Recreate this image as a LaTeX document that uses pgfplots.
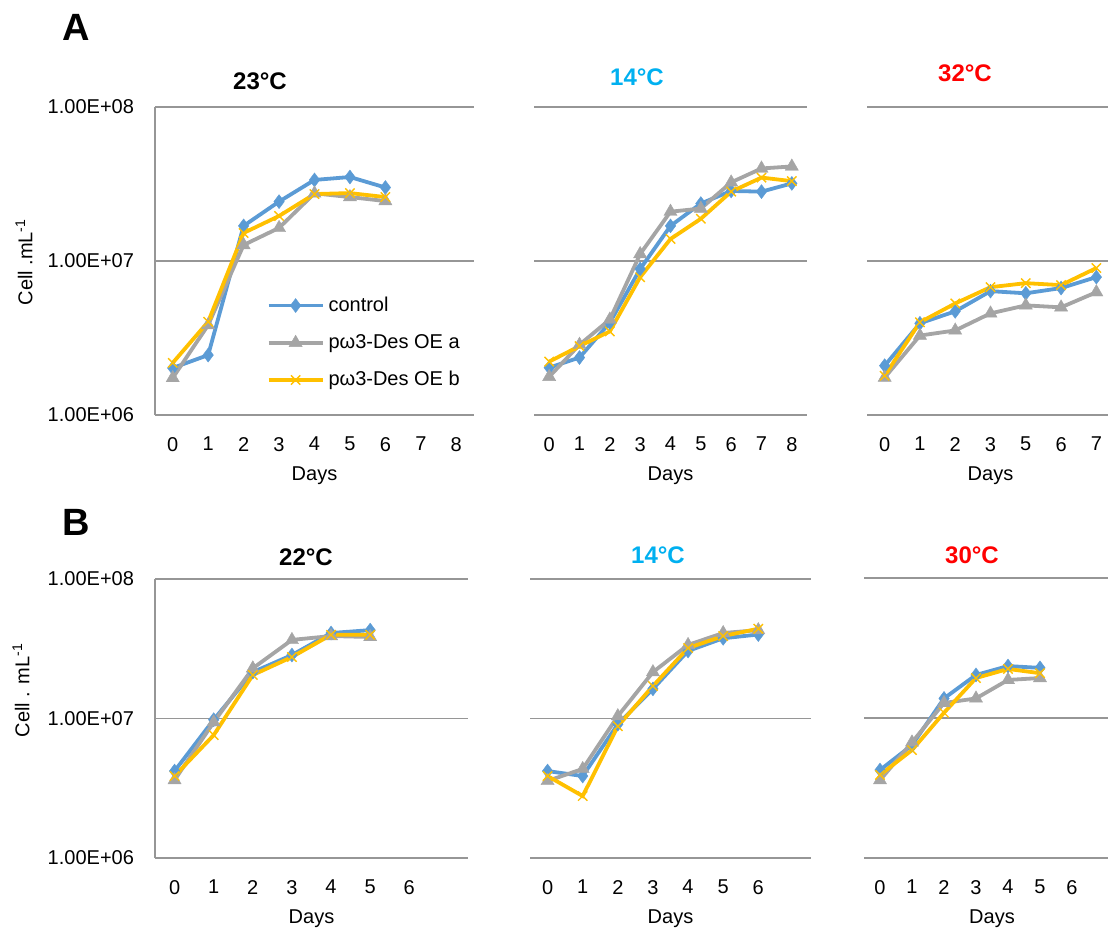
\documentclass[border=0pt]{standalone}
\usepackage{pgfplots}
\pgfplotsset{compat=1.18}
\usepackage{fontspec}
\setmainfont{Liberation Sans}
\definecolor{cblue}{RGB}{91,155,213}
\definecolor{cgray}{RGB}{165,165,165}
\definecolor{cgold}{RGB}{255,192,0}
\definecolor{gridc}{RGB}{150,150,150}
\definecolor{tcyan}{RGB}{0,176,240}
\definecolor{tred}{RGB}{255,0,0}

\pgfplotsset{
  scale only axis,
  ytick={1e6,1e7,1e8},
  ymajorgrids, grid style={gridc, line width=0.8pt},
  axis line style={draw=none}, tick style={draw=none}, major tick length=0pt,
  xlabel={Days},
  xlabel style={at={(axis description cs:0.5,0)}, anchor=center, yshift=-30.5pt},
  xticklabel style={yshift=-7.5pt},
  yticklabel style={xshift=-7pt},
}
\tikzset{
  ctrl/.style={color=cblue, line width=1.9pt, mark=diamond*, mark size=3.5pt,
    mark options={solid, fill=cblue, line width=0.2pt}},
  oea/.style={color=cgray, line width=1.9pt, mark=triangle*, mark size=3.8pt,
    mark options={solid, fill=cgray, line width=0.2pt}},
  oeb/.style={color=cgold, line width=1.9pt, mark=x, mark size=3.3pt,
    mark options={solid, line width=0.7pt}},
}

\begin{document}
\begin{tikzpicture}[font=\fontsize{10}{12}\selectfont]
\useasboundingbox (0,0) rectangle (554pt,-465.5pt);

% ---------------- row A ----------------
\begin{axis}[ymode=log, ymin=1e6, ymax=1e8, anchor=south west, clip=false,
  at={(77.5pt,-207.5pt)}, width=159.5pt, height=154pt,
  yticklabels={1.00E+06,1.00E+07,1.00E+08},
  xmin=-0.5, xmax=8.5, xtick={0,...,8}, xticklabels={0,1,2,3,4,5,6,7,8},
  legend style={draw=none, fill=none, at={(axis description cs:0.349,0.398)},
    anchor=north west, cells={anchor=west}, row sep=6pt, inner sep=0pt},
  legend image code/.code={\draw[mark repeat=2, mark phase=2]
    plot coordinates {(0pt,0pt) (13.5pt,0pt) (27pt,0pt)};}]
\draw[gridc, line width=0.8pt] (rel axis cs:0,0) -- (rel axis cs:0,1);
\addplot[ctrl] coordinates {(0,2.02e6) (1,2.45e6) (2,1.69e7) (3,2.43e7) (4,3.36e7) (5,3.51e7) (6,3.0e7)};
\addlegendentry{control}
\addplot[oea] coordinates {(0,1.74e6) (1,3.84e6) (2,1.27e7) (3,1.64e7) (4,2.75e7) (5,2.6e7) (6,2.45e7)};
\addlegendentry{pω3-Des OE a}
\addplot[oeb] coordinates {(0,2.18e6) (1,4.03e6) (2,1.52e7) (3,1.96e7) (4,2.72e7) (5,2.76e7) (6,2.6e7)};
\addlegendentry{pω3-Des OE b}
\end{axis}

\begin{axis}[ymode=log, ymin=1e6, ymax=1e8, anchor=south west, clip=false,
  at={(267pt,-207.5pt)}, width=136.5pt, height=154pt,
  yticklabels={,,},
  xmin=-0.5, xmax=8.5, xtick={0,...,8}, xticklabels={0,1,2,3,4,5,6,7,8}]
\addplot[ctrl] coordinates {(0,2.03e6) (1,2.36e6) (2,3.98e6) (3,8.87e6) (4,1.69e7) (5,2.36e7) (6,2.85e7) (7,2.82e7) (8,3.19e7)};
\addplot[oea] coordinates {(0,1.77e6) (1,2.86e6) (2,4.17e6) (3,1.11e7) (4,2.09e7) (5,2.19e7) (6,3.24e7) (7,3.99e7) (8,4.11e7)};
\addplot[oeb] coordinates {(0,2.22e6) (1,2.8e6) (2,3.49e6) (3,7.85e6) (4,1.39e7) (5,1.88e7) (6,2.82e7) (7,3.48e7) (8,3.3e7)};
\end{axis}

\begin{axis}[ymode=log, ymin=1e6, ymax=1e8, anchor=south west, clip=false,
  at={(433.5pt,-207.5pt)}, width=123.5pt, height=154pt,
  yticklabels={,,},
  xmin=-0.5, xmax=6.5, xtick={0,...,6}, xticklabels={0,1,2,3,5,6,7}]
\addplot[ctrl] coordinates {(0,2.09e6) (1,3.94e6) (2,4.71e6) (3,6.37e6) (4,6.17e6) (5,6.67e6) (6,7.86e6)};
\addplot[oea] coordinates {(0,1.75e6) (1,3.28e6) (2,3.54e6) (3,4.57e6) (4,5.15e6) (5,5.0e6) (6,6.27e6)};
\addplot[oeb] coordinates {(0,1.8e6) (1,4.0e6) (2,5.3e6) (3,6.76e6) (4,7.18e6) (5,6.97e6) (6,9.0e6)};
\end{axis}

% ---------------- row B ----------------
\begin{axis}[ymode=log, ymin=1e6, ymax=1e8, anchor=south west, clip=false,
  at={(77.5pt,-429pt)}, width=156.5pt, height=139.5pt,
  yticklabels={1.00E+06,1.00E+07,1.00E+08},
  xmin=-0.5, xmax=7.5, xtick={0,...,6}, xticklabels={0,1,2,3,4,5,6}]
\draw[gridc, line width=0.8pt] (rel axis cs:0,0) -- (rel axis cs:0,1);
\addplot[ctrl] coordinates {(0,4.2e6) (1,9.8e6) (2,2.15e7) (3,2.85e7) (4,4.1e7) (5,4.3e7)};
\addplot[oea] coordinates {(0,3.62e6) (1,9.4e6) (2,2.29e7) (3,3.66e7) (4,3.9e7) (5,3.84e7)};
\addplot[oeb] coordinates {(0,3.87e6) (1,7.6e6) (2,2.05e7) (3,2.76e7) (4,3.98e7) (5,3.98e7)};
\end{axis}

\begin{axis}[ymode=log, ymin=1e6, ymax=1e8, anchor=south west, clip=false,
  at={(265pt,-429pt)}, width=140.5pt, height=139.5pt,
  yticklabels={,,},
  xmin=-0.5, xmax=7.5, xtick={0,...,6}, xticklabels={0,1,2,3,4,5,6}]
\addplot[ctrl] coordinates {(0,4.2e6) (1,3.87e6) (2,9.1e6) (3,1.63e7) (4,3.05e7) (5,3.76e7) (6,4.0e7)};
\addplot[oea] coordinates {(0,3.57e6) (1,4.35e6) (2,1.04e7) (3,2.15e7) (4,3.37e7) (5,4.1e7) (6,4.3e7)};
\addplot[oeb] coordinates {(0,3.87e6) (1,2.78e6) (2,8.8e6) (3,1.71e7) (4,3.2e7) (5,3.9e7) (6,4.4e7)};
\end{axis}

\begin{axis}[ymode=log, ymin=1e6, ymax=1e8, anchor=south west, clip=false,
  at={(432pt,-429pt)}, width=128pt, height=140pt,
  yticklabels={,,},
  xmin=-0.5, xmax=7.5, xtick={0,...,6}, xticklabels={0,1,2,3,4,5,6}]
\addplot[ctrl] coordinates {(0,4.25e6) (1,6.4e6) (2,1.38e7) (3,2.03e7) (4,2.35e7) (5,2.28e7)};
\addplot[oea] coordinates {(0,3.6e6) (1,6.7e6) (2,1.28e7) (3,1.38e7) (4,1.87e7) (5,1.93e7)};
\addplot[oeb] coordinates {(0,3.92e6) (1,5.9e6) (2,1.09e7) (3,1.93e7) (4,2.24e7) (5,2.09e7)};
\end{axis}

% panel letters, titles, y labels
\node[font=\fontsize{19}{22}\bfseries\selectfont] at (38pt,-13.5pt) {A};
\node[font=\fontsize{19}{22}\bfseries\selectfont] at (38pt,-261pt) {B};
\node[font=\fontsize{12}{14}\bfseries\selectfont] at (130pt,-40.5pt) {23°C};
\node[font=\fontsize{12}{14}\bfseries\selectfont, text=tcyan] at (318.5pt,-38.5pt) {14°C};
\node[font=\fontsize{12}{14}\bfseries\selectfont, text=tred] at (482.5pt,-36.5pt) {32°C};
\node[font=\fontsize{12}{14}\bfseries\selectfont] at (153pt,-278.5pt) {22°C};
\node[font=\fontsize{12}{14}\bfseries\selectfont, text=tcyan] at (329pt,-277.5pt) {14°C};
\node[font=\fontsize{12}{14}\bfseries\selectfont, text=tred] at (486pt,-277.5pt) {30°C};
\node[rotate=90] at (12pt,-131pt) {Cell .mL\textsuperscript{-1}};
\node[rotate=90] at (10.5pt,-345pt) {Cell . mL\textsuperscript{-1}};
\end{tikzpicture}
\end{document}
